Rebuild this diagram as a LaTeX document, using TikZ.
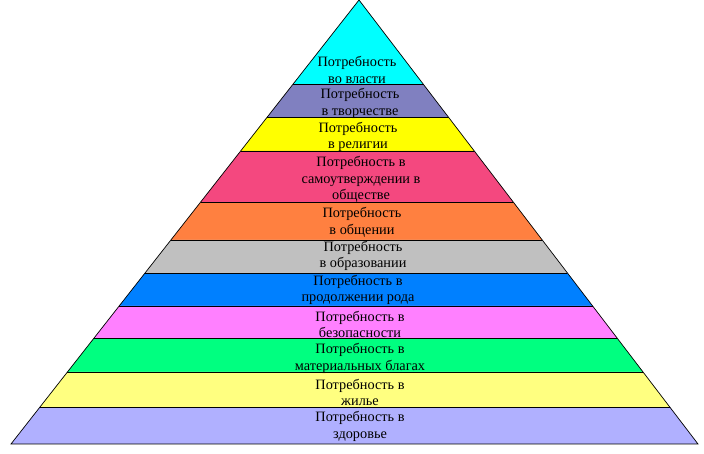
\documentclass[tikz,border=0pt]{standalone}
\usepackage{fontspec}
\setmainfont{Liberation Serif}
\usetikzlibrary{calc}
\definecolor{cA}{HTML}{00FFFF}
\definecolor{cB}{HTML}{8080C0}
\definecolor{cC}{HTML}{FFFF00}
\definecolor{cD}{HTML}{F4487F}
\definecolor{cE}{HTML}{FF8040}
\definecolor{cF}{HTML}{C0C0C0}
\definecolor{cG}{HTML}{0080FF}
\definecolor{cH}{HTML}{FF80FF}
\definecolor{cI}{HTML}{00FF80}
\definecolor{cJ}{HTML}{FFFF80}
\definecolor{cK}{HTML}{B0B0FF}
\begin{document}
\begin{tikzpicture}[x=1pt,y=1pt,
  lbl/.style={align=center, font=\fontsize{14.3}{16.8}\selectfont, inner sep=0pt},
  sep/.style={draw=black, line width=0.9pt},
  edge/.style={draw=black, line width=0.7pt}]
\useasboundingbox (0,0) rectangle (704,454);
\coordinate (A) at (359,454);
\coordinate (L) at (11,10);
\coordinate (R) at (698,10);
\foreach \a/\b/\c in {0/0.1903/cA, 0.1903/0.2646/cB, 0.2646/0.3401/cC, 0.3401/0.4550/cD, 0.4550/0.5405/cE, 0.5405/0.6149/cF, 0.6149/0.6892/cG, 0.6892/0.7624/cH, 0.7624/0.8378/cI, 0.8378/0.9167/cJ, 0.9167/1/cK}{
  \fill[\c] ($(A)!\a!(L)$) -- ($(A)!\b!(L)$) -- ($(A)!\b!(R)$) -- ($(A)!\a!(R)$) -- cycle;
}
\foreach \a in {0.1903,0.2646,0.3401,0.4550,0.5405,0.6149,0.6892,0.7624,0.8378,0.9167}{
  \draw[sep] ($(A)!\a!(L)$) -- ($(A)!\a!(R)$);
}
\draw[edge] (A) -- (L) -- (R) -- cycle;
\node[lbl] (t1) at (357,384) {Потребность\\во власти};
\node[lbl] (t2) at (360,350.5) {Потребность\\в творчестве};
\node[lbl] (t3) at (358,317) {Потребность\\в религии};
\node[lbl] (t4) at (361,274.5) {Потребность в\\самоутверждении в\\обществе};
\node[lbl] (t5) at (362,231.5) {Потребность\\в общении};
\node[lbl] (t6) at (363,198) {Потребность\\в образовании};
\node[lbl] (t7) at (358,164) {Потребность в\\продолжении рода};
\node[lbl] (t8) at (360,129.5) {Потребность в\\безопасности};
\node[lbl] (t9) at (360,95.5) {Потребность в\\материальных благах};
\node[lbl] (t10) at (360,61.5) {Потребность в\\жилье};
\node[lbl] (t11) at (360,27.5) {Потребность в\\здоровье};
\end{tikzpicture}
\end{document}
